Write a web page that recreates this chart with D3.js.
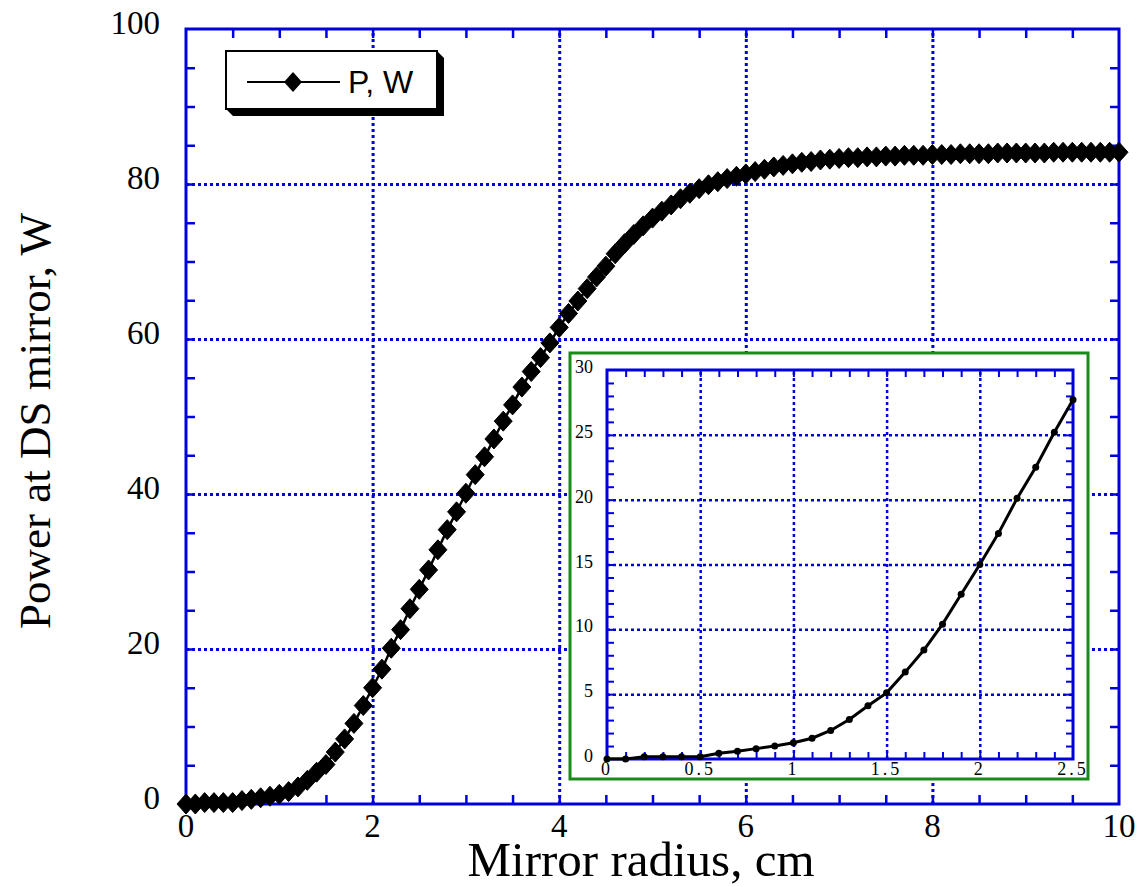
<!DOCTYPE html>
<html>
<head>
<meta charset="utf-8">
<script src="https://cdn.jsdelivr.net/npm/d3@7"></script>
<style>
  body { margin: 0; background: #fff; }
  svg { display: block; }
  .serif { font-family: "Liberation Serif", "Times New Roman", serif; }
</style>
</head>
<body>
<svg id="chart" width="1140" height="887"></svg>
<script>
// mirror radius, cm
var radius = [
  0.0, 0.1, 0.2, 0.3, 0.4, 0.5, 0.6, 0.7, 0.8, 0.9,
  1.0, 1.1, 1.2, 1.3, 1.4, 1.5, 1.6, 1.7, 1.8, 1.9,
  2.0, 2.1, 2.2, 2.3, 2.4, 2.5, 2.6, 2.7, 2.8, 2.9,
  3.0, 3.1, 3.2, 3.3, 3.4, 3.5, 3.6, 3.7, 3.8, 3.9,
  4.0, 4.1, 4.2, 4.3, 4.4, 4.5, 4.6, 4.7, 4.8, 4.9,
  5.0, 5.1, 5.2, 5.3, 5.4, 5.5, 5.6, 5.7, 5.8, 5.9,
  6.0, 6.1, 6.2, 6.3, 6.4, 6.5, 6.6, 6.7, 6.8, 6.9,
  7.0, 7.1, 7.2, 7.3, 7.4, 7.5, 7.6, 7.7, 7.8, 7.9,
  8.0, 8.1, 8.2, 8.3, 8.4, 8.5, 8.6, 8.7, 8.8, 8.9,
  9.0, 9.1, 9.2, 9.3, 9.4, 9.5, 9.6, 9.7, 9.8, 9.9,
  10.0
];
// power at DS mirror, W
var power = [
  0.0, 0.0, 0.18, 0.18, 0.18, 0.18, 0.44, 0.6, 0.8, 1.0,
  1.25, 1.6, 2.2, 3.05, 4.1, 5.1, 6.7, 8.4, 10.4, 12.7,
  15.0, 17.4, 20.1, 22.5, 25.2, 27.7, 30.2, 32.8, 35.4, 37.7,
  40.1, 42.5, 44.8, 47.1, 49.4, 51.5, 53.8, 55.8, 57.6, 59.5,
  61.5, 63.3, 64.9, 66.5, 68.0, 69.4, 71.0, 72.3, 73.5, 74.6,
  75.6, 76.5, 77.3, 78.1, 78.8, 79.4, 79.9, 80.3, 80.7, 81.0,
  81.3, 81.6, 81.9, 82.2, 82.4, 82.6, 82.8, 82.9, 83.1, 83.2,
  83.3, 83.4, 83.4, 83.5, 83.5, 83.6, 83.6, 83.7, 83.7, 83.7,
  83.8, 83.8, 83.8, 83.9, 83.9, 83.9, 83.9, 84.0, 84.0, 84.0,
  84.0, 84.0, 84.0, 84.1, 84.1, 84.1, 84.1, 84.1, 84.1, 84.1,
  84.1
];

var xTicks = [0, 2, 4, 6, 8, 10];
var yTicks = [0, 20, 40, 60, 80, 100];
var insetXTicks = [0, 0.5, 1, 1.5, 2, 2.5];
var insetYTicks = [0, 5, 10, 15, 20, 25, 30];
var insetMax = 2.5;
var seriesName = "P, W";

var blue = "#0000dd";
var svg = d3.select("#chart");

var data = radius.map(function (r, i) { return {r: r, p: power[i]}; });

// ---- main plot ----
var m = {left: 186, right: 1119, top: 29, bottom: 804};
var x = d3.scaleLinear().domain([0, 10]).range([m.left, m.right]);
var y = d3.scaleLinear().domain([0, 100]).range([m.bottom, m.top]);

function drawFrame(g, xs, ys, box, opts) {
	var w = box.right - box.left, h = box.bottom - box.top;
	// dotted grid
	g.append("g")
		.attr("transform", "translate(0," + box.bottom + ")")
		.call(d3.axisBottom(xs).tickValues(opts.xGrid).tickSize(-h).tickFormat(""))
		.call(function (a) { a.select(".domain").remove(); })
		.selectAll("line")
		.attr("stroke", blue).attr("stroke-width", opts.gridW).attr("stroke-dasharray", "3,3");
	g.append("g")
		.attr("transform", "translate(" + box.left + ",0)")
		.call(d3.axisLeft(ys).tickValues(opts.yGrid).tickSize(-w).tickFormat(""))
		.call(function (a) { a.select(".domain").remove(); })
		.selectAll("line")
		.attr("stroke", blue).attr("stroke-width", opts.gridW).attr("stroke-dasharray", "3,3");

	// inward ticks on all four sides
	var axes = [
		[d3.axisBottom(xs).tickValues(opts.xMinor), "translate(0," + box.bottom + ")"],
		[d3.axisTop(xs).tickValues(opts.xMinor), "translate(0," + box.top + ")"],
		[d3.axisLeft(ys).tickValues(opts.yMinor), "translate(" + box.left + ",0)"],
		[d3.axisRight(ys).tickValues(opts.yMinor), "translate(" + box.right + ",0)"]
	];
	axes.forEach(function (a) {
		g.append("g")
			.attr("transform", a[1])
			.call(a[0].tickSize(-opts.tick).tickFormat(""))
			.call(function (s) { s.select(".domain").remove(); })
			.selectAll("line")
			.attr("stroke", blue).attr("stroke-width", opts.tickW);
	});

	g.append("rect")
		.attr("x", box.left).attr("y", box.top)
		.attr("width", w).attr("height", h)
		.attr("fill", "none").attr("stroke", blue).attr("stroke-width", opts.frameW);
}

var mainG = svg.append("g");
drawFrame(mainG, x, y, m, {
	xGrid: [2, 4, 6, 8], yGrid: [20, 40, 60, 80],
	xMinor: d3.range(0.5, 10, 0.5), yMinor: d3.range(5, 100, 5),
	tick: 9, tickW: 2.5, gridW: 3, frameW: 3
});

// tick labels
mainG.selectAll("text.xl")
	.data(xTicks).enter().append("text")
	.attr("class", "serif")
	.attr("x", function (d) { return x(d); })
	.attr("y", 837)
	.attr("text-anchor", "middle")
	.attr("font-size", 33)
	.text(function (d) { return d; });
mainG.selectAll("text.yl")
	.data(yTicks).enter().append("text")
	.attr("class", "serif")
	.attr("x", 160)
	.attr("y", function (d) { return y(d) + 5; })
	.attr("text-anchor", "end")
	.attr("font-size", 33)
	.text(function (d) { return d; });

// axis titles
svg.append("text")
	.attr("class", "serif")
	.attr("x", 641).attr("y", 876)
	.attr("text-anchor", "middle")
	.attr("font-size", 49)
	.text("Mirror radius, cm");
svg.append("text")
	.attr("class", "serif")
	.attr("transform", "translate(50,421) rotate(-90)")
	.attr("text-anchor", "middle")
	.attr("font-size", 45)
	.text("Power at DS mirror, W");

// series
var diamond = "M0,-10L9,0L0,10L-9,0Z";
var line = d3.line().x(function (d) { return x(d.r); }).y(function (d) { return y(d.p); });
mainG.append("path")
	.datum(data)
	.attr("d", line)
	.attr("fill", "none").attr("stroke", "#000").attr("stroke-width", 2.5);
mainG.selectAll("path.pt")
	.data(data).enter().append("path")
	.attr("class", "pt")
	.attr("d", diamond)
	.attr("transform", function (d) { return "translate(" + x(d.r) + "," + y(d.p) + ")"; })
	.attr("fill", "#000")
	.attr("stroke", "#000").attr("stroke-width", 1).attr("stroke-linejoin", "round");

// legend with drop shadow
var lg = svg.append("g");
lg.append("path")
	.attr("d", "M437,51L444,58L444,116L233,116L226,109Z")
	.attr("fill", "#000");
lg.append("rect")
	.attr("x", 226).attr("y", 51).attr("width", 211).attr("height", 58)
	.attr("fill", "#fff").attr("stroke", "#000").attr("stroke-width", 2);
lg.append("line")
	.attr("x1", 247).attr("x2", 340).attr("y1", 82).attr("y2", 82)
	.attr("stroke", "#000").attr("stroke-width", 2);
lg.append("path")
	.attr("d", diamond)
	.attr("transform", "translate(293,82)")
	.attr("fill", "#000");
lg.append("text")
	.attr("x", 348).attr("y", 93)
	.attr("font-family", "Liberation Sans, Arial, sans-serif")
	.attr("font-size", 32)
	.text(seriesName);

// ---- inset ----
var ib = {left: 607, right: 1073, top: 370, bottom: 759};
var ix = d3.scaleLinear().domain([0, 2.5]).range([ib.left, ib.right]);
var iy = d3.scaleLinear().domain([0, 30]).range([ib.bottom, ib.top]);

var insetG = svg.append("g");
insetG.append("rect")
	.attr("x", 570).attr("y", 353).attr("width", 518).attr("height", 426)
	.attr("fill", "#fff").attr("stroke", "#1a8a1a").attr("stroke-width", 3);

drawFrame(insetG, ix, iy, ib, {
	xGrid: [0.5, 1, 1.5, 2], yGrid: [5, 10, 15, 20, 25],
	xMinor: d3.range(0.1, 2.5, 0.1), yMinor: d3.range(1, 30, 1),
	tick: 7, tickW: 2, gridW: 2.5, frameW: 3
});

insetG.selectAll("text.ixl")
	.data(insetXTicks).enter().append("text")
	.attr("class", "serif")
	.attr("x", function (d) { return ix(d); })
	.attr("y", 775)
	.attr("text-anchor", "middle")
	.attr("font-size", 18)
	.attr("letter-spacing", 3)
	.text(function (d) { return d; });
insetG.selectAll("text.iyl")
	.data(insetYTicks).enter().append("text")
	.attr("class", "serif")
	.attr("x", 593)
	.attr("y", function (d) { return iy(d) + 3; })
	.attr("text-anchor", "end")
	.attr("font-size", 18)
	.text(function (d) { return d; });

var insetData = data.filter(function (d) { return d.r <= insetMax + 1e-9; });
var iline = d3.line().x(function (d) { return ix(d.r); }).y(function (d) { return iy(d.p); });
insetG.append("path")
	.datum(insetData)
	.attr("d", iline)
	.attr("fill", "none").attr("stroke", "#000").attr("stroke-width", 3);
insetG.selectAll("circle.ipt")
	.data(insetData).enter().append("circle")
	.attr("cx", function (d) { return ix(d.r); })
	.attr("cy", function (d) { return iy(d.p); })
	.attr("r", 3.5)
	.attr("fill", "#000");
</script>
</body>
</html>
